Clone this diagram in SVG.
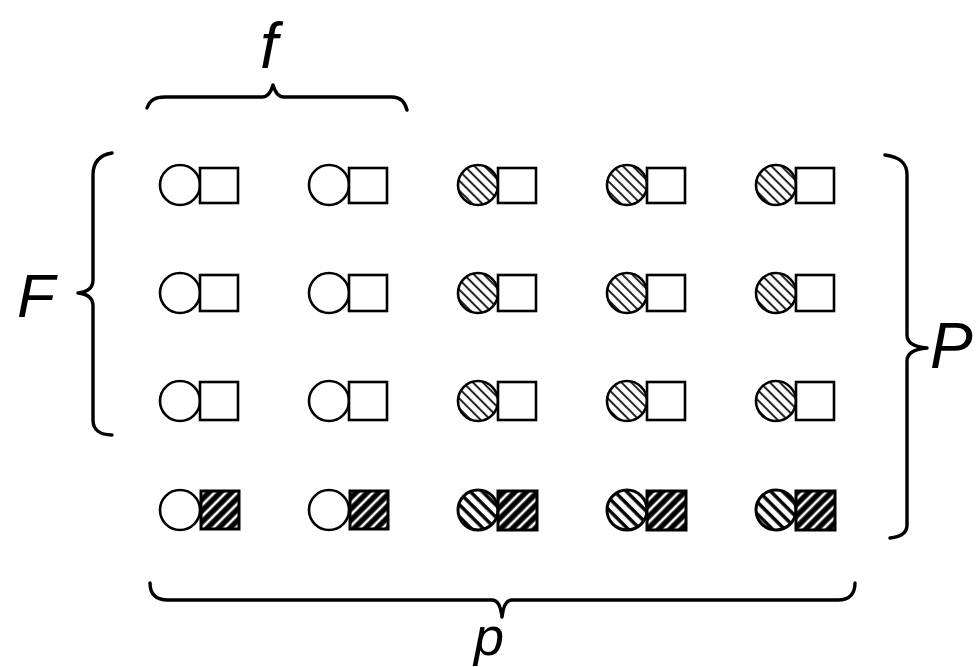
<svg xmlns="http://www.w3.org/2000/svg" width="978" height="667" viewBox="0 0 978 667">
<style>
.o{fill:#fff;stroke:#000;stroke-width:2.6}
.lh{fill:url(#lightHatch);stroke:#000;stroke-width:2.6}
.hh{fill:url(#heavyHatch);stroke:#000;stroke-width:3}
.sq{fill:#fff;stroke:#000;stroke-width:2.6}
.sh{fill:url(#sqHatch);stroke:#000;stroke-width:3}
.br{fill:none;stroke:#000;stroke-width:3.4;stroke-linecap:round;stroke-linejoin:round}
.lb{font-family:"Liberation Sans",Arial,sans-serif;font-style:italic;fill:#000}
</style>
<defs>
<pattern id="lightHatch" patternUnits="userSpaceOnUse" width="7" height="7" patternTransform="rotate(-45)">
<rect width="7" height="7" fill="#fff"/>
<line x1="1" y1="0" x2="1" y2="7" stroke="#000" stroke-width="1.7"/>
</pattern>
<pattern id="heavyHatch" patternUnits="userSpaceOnUse" width="8.5" height="8.5" patternTransform="rotate(-45)">
<rect width="8.5" height="8.5" fill="#fff"/>
<line x1="2" y1="0" x2="2" y2="8.5" stroke="#000" stroke-width="3.4"/>
</pattern>
<pattern id="sqHatch" patternUnits="userSpaceOnUse" width="8" height="8" patternTransform="rotate(45)">
<rect width="8" height="8" fill="#000"/>
<line x1="4" y1="0" x2="4" y2="8" stroke="#fff" stroke-width="2.6"/>
</pattern>
</defs>
<rect width="978" height="667" fill="#fff"/>

<g id="connectors">
<path id="brace-f" class="br" d="M147,108 C150,100 155,97 165,97 L262,97 C268,97 271,92 273,85 C275,92 278,97 284,97 L392,97 C400,97 405,102 407,110"/>
<path id="brace-F" class="br" d="M112,153 C100,155 93,162 93,175 L93,280 C93,288 88,292 78,293 C88,294 93,298 93,306 L93,420 C93,430 100,435 112,435"/>
<path id="brace-P" class="br" d="M885,155 C900,157 907,163 907,175 L907,335 C907,343 915,347 927,348 C915,349 907,353 907,361 L907,525 C907,533 900,537 890,538"/>
<path id="brace-p" class="br" d="M150,583 C150,593 155,600 168,600 L492,600 C498,600 501,608 502,617 C503,608 506,600 512,600 L838,600 C850,600 855,593 855,583"/>
</g>

<g id="labels">
<text class="lb" x="260" y="68" font-size="64">f</text>
<text class="lb" x="17" y="317" font-size="62">F</text>
<text class="lb" x="930" y="368" font-size="64">P</text>
<text class="lb" x="474" y="655" font-size="54">p</text>
</g>

<g id="r1c1"><circle class="o" cx="180" cy="185" r="20"/><rect class="sq" x="200" y="168" width="38" height="35"/></g>
<g id="r1c2"><circle class="o" cx="329" cy="185" r="20"/><rect class="sq" x="349" y="168" width="38" height="35"/></g>
<g id="r1c3"><circle class="lh" cx="478" cy="185" r="20"/><rect class="sq" x="498" y="168" width="38" height="35"/></g>
<g id="r1c4"><circle class="lh" cx="627" cy="185" r="20"/><rect class="sq" x="647" y="168" width="38" height="35"/></g>
<g id="r1c5"><circle class="lh" cx="776" cy="185" r="20"/><rect class="sq" x="796" y="168" width="38" height="35"/></g>

<g id="r2c1"><circle class="o" cx="180" cy="293" r="20"/><rect class="sq" x="200" y="275" width="38" height="36"/></g>
<g id="r2c2"><circle class="o" cx="329" cy="293" r="20"/><rect class="sq" x="349" y="275" width="38" height="36"/></g>
<g id="r2c3"><circle class="lh" cx="478" cy="293" r="20"/><rect class="sq" x="498" y="275" width="38" height="36"/></g>
<g id="r2c4"><circle class="lh" cx="627" cy="293" r="20"/><rect class="sq" x="647" y="275" width="38" height="36"/></g>
<g id="r2c5"><circle class="lh" cx="776" cy="293" r="20"/><rect class="sq" x="796" y="275" width="38" height="36"/></g>

<g id="r3c1"><circle class="o" cx="180" cy="401" r="20"/><rect class="sq" x="200" y="382" width="38" height="38"/></g>
<g id="r3c2"><circle class="o" cx="329" cy="401" r="20"/><rect class="sq" x="349" y="382" width="38" height="38"/></g>
<g id="r3c3"><circle class="lh" cx="478" cy="401" r="20"/><rect class="sq" x="498" y="382" width="38" height="38"/></g>
<g id="r3c4"><circle class="lh" cx="627" cy="401" r="20"/><rect class="sq" x="647" y="382" width="38" height="38"/></g>
<g id="r3c5"><circle class="lh" cx="776" cy="401" r="20"/><rect class="sq" x="796" y="382" width="38" height="38"/></g>

<g id="r4c1"><circle class="o" cx="180" cy="510" r="20"/><rect class="sh" x="201" y="491" width="38" height="38"/></g>
<g id="r4c2"><circle class="o" cx="329" cy="510" r="20"/><rect class="sh" x="350" y="491" width="38" height="38"/></g>
<g id="r4c3"><circle class="hh" cx="478" cy="510" r="20"/><rect class="sh" x="498" y="491" width="39" height="39"/></g>
<g id="r4c4"><circle class="hh" cx="627" cy="510" r="20"/><rect class="sh" x="647" y="491" width="39" height="39"/></g>
<g id="r4c5"><circle class="hh" cx="776" cy="510" r="20"/><rect class="sh" x="796" y="491" width="39" height="39"/></g>
</svg>
